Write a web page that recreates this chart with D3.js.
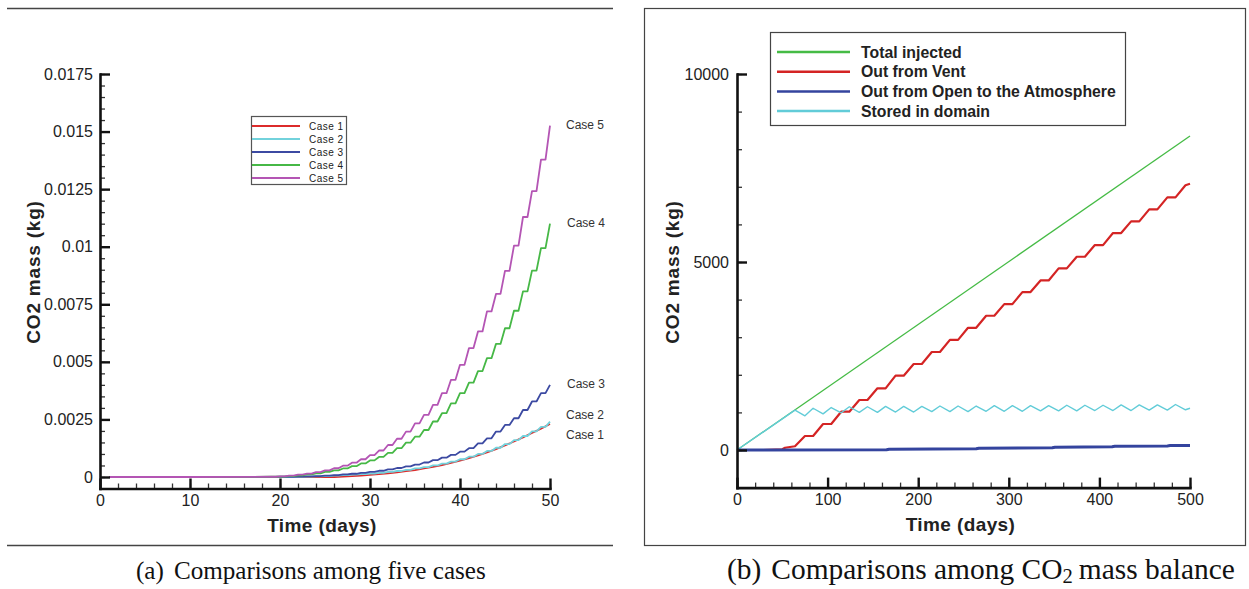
<!DOCTYPE html>
<html>
<head>
<meta charset="utf-8">
<script src="https://cdn.jsdelivr.net/npm/d3@7"></script>
<style>
  body { margin: 0; background: #fff; }
  svg { display: block; }
</style>
</head>
<body>
<script>
// ---- panel (a): CO2 mass for five cases, values read per day ----
const daysA = [1,19,20,21,22,23,24,25,26,27,28,29,30,31,32,33,34,35,36,37,38,39,40,41,42,43,44,45,46,47,48,49,50];
const case1 = [0,0,0,0,0,0,0,0,0,0.00002,0.00004,0.00006,0.00009,0.00012,0.00016,0.0002,0.00025,0.0003,0.00037,0.00044,0.00052,0.00061,0.00071,0.00082,0.00094,0.00107,0.00121,0.00137,0.00154,0.00172,0.00191,0.0021,0.0023];
const case2 = [0,0,0,0,0.00001,0.00002,0.00003,0.00004,0.00006,0.00008,0.0001,0.00012,0.00015,0.00018,0.00022,0.00026,0.00031,0.00037,0.00043,0.0005,0.00058,0.00067,0.00077,0.00088,0.001,0.00113,0.00127,0.00143,0.0016,0.00178,0.00198,0.00218,0.0024];
const case3 = [0,0,0.00001,0.00001,0.00002,0.00003,0.00004,0.00006,0.00008,0.00011,0.00014,0.00018,0.00022,0.00027,0.00033,0.00039,0.00046,0.00054,0.00063,0.00073,0.00084,0.00096,0.0011,0.00125,0.00146,0.00168,0.00197,0.00226,0.00255,0.00291,0.00328,0.00364,0.004];
const case4 = [0,0.00001,0.00002,0.00004,0.00007,0.00011,0.00016,0.00022,0.00029,0.00037,0.00047,0.00059,0.00072,0.00087,0.00105,0.00125,0.00149,0.00175,0.00204,0.00241,0.00277,0.0032,0.00364,0.0041,0.0046,0.00516,0.00578,0.00646,0.00722,0.00806,0.00896,0.00994,0.011];
const case5 = [0,0.00001,0.00003,0.00006,0.0001,0.00015,0.00021,0.00029,0.00038,0.00049,0.00062,0.00077,0.00095,0.00115,0.00139,0.00166,0.00197,0.00233,0.0027,0.00313,0.00364,0.00422,0.00487,0.0056,0.00632,0.00719,0.00795,0.00895,0.01005,0.01129,0.01241,0.01378,0.01526];
const caseNames = ["Case 1","Case 2","Case 3","Case 4","Case 5"];
const caseColors = ["#dc2b2b","#72d2dc","#3c4aa2","#46b846","#b455b4"];
const ticksAx = [0,10,20,30,40,50];
const ticksAy = [0,0.0025,0.005,0.0075,0.01,0.0125,0.015,0.0175];

// ---- panel (b): CO2 mass balance ----
const totalInjected = [[0,0],[500,8350]];
const ventOut = [[29,0],[50,20],[53,60],[64,100],[75,372],[84,372],[95,691],[104,691],[115,1019],[124,1019],[135,1330],[144,1330],[155,1640],[164,1640],[175,1977],[184,1977],[195,2287],[204,2287],[215,2606],[224,2606],[235,2930],[244,2930],[255,3250],[264,3250],[275,3570],[284,3570],[295,3880],[304,3880],[315,4200],[324,4200],[335,4510],[344,4510],[355,4830],[364,4830],[375,5140],[384,5140],[395,5450],[404,5450],[415,5770],[424,5770],[435,6080],[444,6080],[455,6400],[464,6400],[475,6720],[484,6720],[495,7040],[500,7080]];
const openOut = [[0,0],[165,8],[168,22],[264,32],[267,48],[348,60],[351,75],[414,85],[417,98],[475,108],[478,118],[500,122]];
const stored = [[0,0],[64,1060],[75,910],[84,1110],[95,960],[104,1130],[115,990],[124,1150],[135,1000],[144,1150],[155,1000],[164,1160],[175,1010],[184,1160],[195,1010],[204,1160],[215,1020],[224,1170],[235,1020],[244,1170],[255,1020],[264,1170],[275,1030],[284,1180],[295,1030],[304,1180],[315,1030],[324,1180],[335,1040],[344,1180],[355,1040],[364,1190],[375,1040],[384,1190],[395,1050],[404,1190],[415,1050],[424,1200],[435,1050],[444,1200],[455,1060],[464,1200],[475,1060],[484,1210],[495,1070],[500,1110]];
const balanceNames = ["Total injected","Out from Vent","Out from Open to the Atmosphere","Stored in domain"];
const balanceColors = ["#45bb45","#d42424","#34449e","#62ccd8"];
const ticksBx = [0,100,200,300,400,500];
const ticksBy = [0,5000,10000];

const FONT = "'Liberation Sans', Arial, sans-serif";

const svg = d3.select("body").append("svg")
    .attr("width", 1249)
    .attr("height", 589);

// frames around the two panels
svg.append("line").attr("x1", 7).attr("x2", 613).attr("y1", 8.5).attr("y2", 8.5)
    .attr("stroke", "#444").attr("stroke-width", 1.5);
svg.append("line").attr("x1", 7).attr("x2", 613).attr("y1", 545.5).attr("y2", 545.5)
    .attr("stroke", "#444").attr("stroke-width", 1.5);
svg.append("rect").attr("x", 644.5).attr("y", 8.5).attr("width", 601).attr("height", 537)
    .attr("fill", "none").attr("stroke", "#444").attr("stroke-width", 1.2);

// staircase: flat for half an interval, then a sloped riser
function stairCurve(context) {
  let x0, y0, started;
  return {
    areaStart() {}, areaEnd() {},
    lineStart() { started = false; },
    lineEnd() {},
    point(x, y) {
      x = +x; y = +y;
      if (!started) { context.moveTo(x, y); started = true; }
      else { context.lineTo(x0 + (x - x0) * 0.5, y0); context.lineTo(x, y); }
      x0 = x; y0 = y;
    }
  };
}

function drawAxes(g, x, y, o) {
  const x0 = x.range()[0], y0 = y.range()[0];
  // minor ticks
  g.append("g").attr("transform", `translate(0,${y0})`)
    .call(d3.axisBottom(x).tickValues(o.xMinor).tickSize(-5).tickFormat(""))
    .call(a => a.select(".domain").remove())
    .selectAll("line").attr("stroke", "#333").attr("stroke-width", 1.3);
  g.append("g").attr("transform", `translate(${x0},0)`)
    .call(d3.axisLeft(y).tickValues(o.yMinor).tickSize(-5).tickFormat(""))
    .call(a => a.select(".domain").remove())
    .selectAll("line").attr("stroke", "#333").attr("stroke-width", 1.3);
  // major ticks + axis lines
  const ax = g.append("g").attr("transform", `translate(0,${y0})`)
    .call(d3.axisBottom(x).tickValues(o.xMajor).tickSize(-10).tickSizeOuter(0).tickPadding(6).tickFormat(d => String(d)));
  const ay = g.append("g").attr("transform", `translate(${x0},0)`)
    .call(d3.axisLeft(y).tickValues(o.yMajor).tickSize(-10).tickSizeOuter(0).tickPadding(o.pad).tickFormat(d => String(d)));
  [ax, ay].forEach(a => {
    a.attr("font-size", 16).attr("font-family", FONT);
    a.select(".domain").attr("stroke", "#111").attr("stroke-width", 2.6).attr("stroke-linecap", "square");
    a.selectAll(".tick line").attr("stroke", "#111").attr("stroke-width", 2.4);
    a.selectAll(".tick text").attr("fill", "#222");
  });
}

function titles(g, x, y, yTitleX, xTitleY) {
  const xm = (x.range()[0] + x.range()[1]) / 2;
  g.append("text").attr("x", xm - 3).attr("y", xTitleY)
    .attr("text-anchor", "middle").attr("font-family", FONT).attr("font-weight", "bold")
    .attr("font-size", 19).attr("letter-spacing", 0.4).attr("fill", "#222")
    .text("Time (days)");
  g.append("text").attr("transform", `translate(${yTitleX},272) rotate(-90)`)
    .attr("text-anchor", "middle").attr("font-family", FONT).attr("font-weight", "bold")
    .attr("font-size", 19).attr("letter-spacing", 0.8).attr("fill", "#222")
    .text("CO2 mass (kg)");
}

// ---------------- panel (a) ----------------
const xA = d3.scaleLinear().domain([0, 50]).range([100, 550]);
const yA = d3.scaleLinear().domain([-0.0005, 0.0175]).range([488.5, 74]);
const gA = svg.append("g");

const seriesA = [case1, case2, case3, case4, case5].map((vals, i) => ({
  name: caseNames[i], color: caseColors[i],
  pts: daysA.map((d, j) => [d, vals[j]])
}));

const lineAsmooth = d3.line().x(d => xA(d[0])).y(d => yA(d[1]));
const lineAstep = d3.line().x(d => xA(d[0])).y(d => yA(d[1])).curve(stairCurve);

gA.append("g").selectAll("path").data(seriesA).join("path")
    .attr("fill", "none")
    .attr("stroke", d => d.color)
    .attr("stroke-width", 1.8)
    .attr("stroke-linejoin", "round")
    .attr("d", (d, i) => i === 0 ? lineAsmooth(d.pts) : lineAstep(d.pts));

drawAxes(gA, xA, yA, {
  xMajor: ticksAx, xMinor: d3.range(0, 51, 2),
  yMajor: ticksAy, yMinor: d3.range(0, 0.01751, 0.0005), pad: 7
});
titles(gA, xA, yA, 40, 532);

// end labels next to each curve
const endOffsets = [11, -7, -1, -1, -1];
gA.append("g").selectAll("text").data(seriesA).join("text")
    .attr("x", (d, i) => xA(50) + (i === 3 || i === 2 ? 17 : 16))
    .attr("y", (d, i) => yA(d.pts[d.pts.length - 1][1]) + endOffsets[i])
    .attr("dy", "0.35em")
    .attr("font-family", FONT).attr("font-size", 12).attr("fill", "#333")
    .text(d => d.name);

// legend (a)
const legA = gA.append("g").attr("transform", "translate(251,116)");
legA.append("rect").attr("x", 0.5).attr("y", 0.5).attr("width", 95).attr("height", 68)
    .attr("fill", "#fff").attr("stroke", "#555").attr("stroke-width", 1.2);
const rowA = legA.selectAll("g").data(seriesA).join("g")
    .attr("transform", (d, i) => `translate(0,${10 + i * 13})`);
rowA.append("line").attr("x1", 1).attr("x2", 49)
    .attr("stroke", d => d.color).attr("stroke-width", 2);
rowA.append("text").attr("x", 58).attr("dy", "0.35em")
    .attr("font-family", FONT).attr("font-size", 10).attr("letter-spacing", 0.5).attr("fill", "#222")
    .text(d => d.name);

// ---------------- panel (b) ----------------
const xB = d3.scaleLinear().domain([0, 500]).range([737, 1190]);
const yB = d3.scaleLinear().domain([-1000, 10000]).range([487.6, 74]);
const gB = svg.append("g");

const seriesB = [
  { name: balanceNames[0], color: balanceColors[0], pts: totalInjected, w: 1.3 },
  { name: balanceNames[1], color: balanceColors[1], pts: ventOut, w: 2.2 },
  { name: balanceNames[3], color: balanceColors[3], pts: stored, w: 1.4 },
  { name: balanceNames[2], color: balanceColors[2], pts: openOut, w: 3 }
];
const lineB = d3.line().x(d => xB(d[0])).y(d => yB(d[1]));

gB.append("g").selectAll("path").data(seriesB).join("path")
    .attr("fill", "none")
    .attr("stroke", d => d.color)
    .attr("stroke-width", d => d.w)
    .attr("stroke-linejoin", "round")
    .attr("d", d => lineB(d.pts));

drawAxes(gB, xB, yB, {
  xMajor: ticksBx, xMinor: d3.range(0, 501, 20),
  yMajor: ticksBy, yMinor: d3.range(0, 10001, 1000), pad: 8
});
titles(gB, xB, yB, 679, 531);

// legend (b)
const legB = gB.append("g").attr("transform", "translate(770,32)");
legB.append("rect").attr("x", 0.5).attr("y", 0.5).attr("width", 355).attr("height", 93)
    .attr("fill", "#fff").attr("stroke", "#444").attr("stroke-width", 1.2);
const rowB = legB.selectAll("g").data(balanceNames).join("g")
    .attr("transform", (d, i) => `translate(0,${20 + i * 19.7})`);
rowB.append("line").attr("x1", 7).attr("x2", 80)
    .attr("stroke", (d, i) => balanceColors[i]).attr("stroke-width", 2.5);
rowB.append("text").attr("x", 91).attr("dy", "0.35em")
    .attr("font-family", FONT).attr("font-weight", "bold").attr("font-size", 15.8).attr("fill", "#222")
    .text(d => d);

// ---------------- captions: pieces laid out left to right, font fitted to width ----------------
const SERIF = "'Liberation Serif', 'DejaVu Serif', serif";
function caption(x0, width, pieces) {
  const base = 22;
  const nodes = pieces.map(p => svg.append("text")
      .attr("font-family", SERIF).attr("fill", "#111")
      .attr("font-size", base * (p.scale || 1))
      .text(p.text));
  const gaps = pieces.reduce((s, p) => s + (p.gap || 0), 0);
  const natural = nodes.reduce((s, n) => s + n.node().getComputedTextLength(), 0);
  const k = (width - gaps) / natural;
  let x = x0;
  nodes.forEach((n, i) => {
    const p = pieces[i];
    x += p.gap || 0;
    n.attr("font-size", base * k * (p.scale || 1))
     .attr("x", x).attr("y", 579 + (p.dy || 0));
    x += n.node().getComputedTextLength();
  });
}
caption(136, 350, [
  { text: "(a)" },
  { text: "Comparisons among five cases", gap: 10 }
]);
caption(727, 508, [
  { text: "(b)" },
  { text: "Comparisons among CO", gap: 10 },
  { text: "2", scale: 0.7, dy: 4 },
  { text: "mass balance", gap: 6 }
]);
</script>
</body>
</html>
